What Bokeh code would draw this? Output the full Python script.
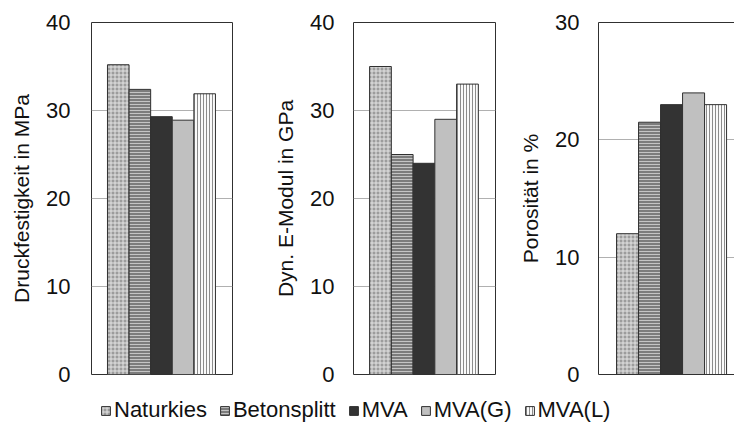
from bokeh.plotting import figure
from bokeh.models import Range1d, FixedTicker, Legend, LegendItem, LinearAxis
from bokeh.layouts import row, column
from bokeh.embed import file_html
from bokeh.resources import INLINE

categories = ["Naturkies", "Betonsplitt", "MVA", "MVA(G)", "MVA(L)"]
druckfestigkeit = [35.2, 32.4, 29.3, 28.9, 31.9]
e_modul = [35.0, 25.0, 24.0, 29.0, 33.0]
porositaet = [12.0, 21.5, 23.0, 24.0, 23.0]
ticks_40 = [0, 10, 20, 30, 40]
ticks_30 = [0, 10, 20, 30]

FONT = "Liberation Sans"
FRAME = "#303030"
styles = [
    dict(fill_color="#9c9c9c", hatch_pattern="cross", hatch_color="#e4e4e4", hatch_scale=4, hatch_weight=1),
    dict(fill_color="#7c7c7c", hatch_pattern="horizontal_line", hatch_color="#c4c4c4", hatch_scale=3, hatch_weight=1),
    dict(fill_color="#333333"),
    dict(fill_color="#c0c0c0"),
    dict(fill_color="#fafafa", hatch_pattern="vertical_line", hatch_color="#8c8c8c", hatch_scale=3, hatch_weight=1),
]


def line_only_axis(ax):
    ax.ticker = FixedTicker(ticks=[])
    ax.axis_line_color = FRAME
    ax.major_tick_line_color = None
    ax.minor_tick_line_color = None
    ax.major_tick_in = 0
    ax.major_tick_out = 0
    ax.major_label_standoff = 0


def panel(values, label, ticks, width, bl, br, bt, bb, xr, ymax, standoff, open_right=False):
    p = figure(width=width, height=392, output_backend="svg", toolbar_location=None,
               x_range=Range1d(*xr), y_range=Range1d(0, ymax),
               min_border_left=bl, min_border_right=br, min_border_top=bt, min_border_bottom=bb)
    p.xgrid.visible = False
    if open_right:
        p.outline_line_color = None
        line_only_axis(p.xaxis[0])
        top = LinearAxis()
        line_only_axis(top)
        p.add_layout(top, "above")
    else:
        p.xaxis.visible = False
        p.outline_line_color = FRAME
        p.outline_line_width = 1
    p.ygrid.grid_line_color = "#b0b0b0"
    p.ygrid.ticker = FixedTicker(ticks=ticks)
    ax = p.yaxis[0]
    ax.ticker = FixedTicker(ticks=ticks)
    ax.axis_line_color = FRAME if open_right else None
    ax.major_tick_line_color = None
    ax.minor_tick_line_color = None
    ax.major_tick_in = 0
    ax.major_tick_out = 0
    ax.major_label_standoff = standoff
    ax.major_label_text_font = FONT
    ax.major_label_text_font_size = "22px"
    ax.major_label_text_color = "#111111"
    ax.axis_label = label
    ax.axis_label_text_font = FONT
    ax.axis_label_text_font_style = "normal"
    ax.axis_label_text_font_size = "21px"
    ax.axis_label_text_color = "#111111"
    ax.axis_label_standoff = 10
    p.background_fill_color = "white"
    p.border_fill_color = "white"
    for i, (v, s) in enumerate(zip(values, styles)):
        p.vbar(x=[i], top=[v], bottom=0, width=1.0, line_color=FRAME, line_width=1, **s)
    return p


p1 = panel(druckfestigkeit, "Druckfestigkeit in MPa", ticks_40, 245, 91, 13, 22, 18, (-1.24, 5.29), 40, 21)
p2 = panel(e_modul, "Dyn. E-Modul in GPa", ticks_40, 255, 108, 5, 22, 18, (-1.24, 5.29), 40, 19)
p3 = panel(porositaet, "Porosität in %", ticks_30, 234, 98, 0, 21, 12, (-1.32, 4.86), 30, 19, open_right=True)

leg = figure(width=734, height=31, output_backend="svg", toolbar_location=None,
             x_range=Range1d(0, 1), y_range=Range1d(0, 1),
             min_border_left=0, min_border_right=0, min_border_top=0, min_border_bottom=0)
leg.axis.visible = False
leg.grid.visible = False
leg.outline_line_color = None
items = []
for c, s in zip(categories, styles):
    r = leg.vbar(x=[5], top=[0.5], width=0.1, line_color=FRAME, line_width=1, **s)
    items.append(LegendItem(label=c, renderers=[r]))
legend = Legend(items=items, orientation="horizontal", location=(100, 0),
                glyph_width=11, glyph_height=11, label_standoff=3, spacing=12,
                padding=0, margin=0, border_line_color=None, background_fill_alpha=0,
                label_text_font=FONT, label_text_font_size="22px", label_text_color="#111111")
leg.add_layout(legend, "center")

layout = column(row(p1, p2, p3), leg)
open("out.html", "w").write(file_html(layout, INLINE))
